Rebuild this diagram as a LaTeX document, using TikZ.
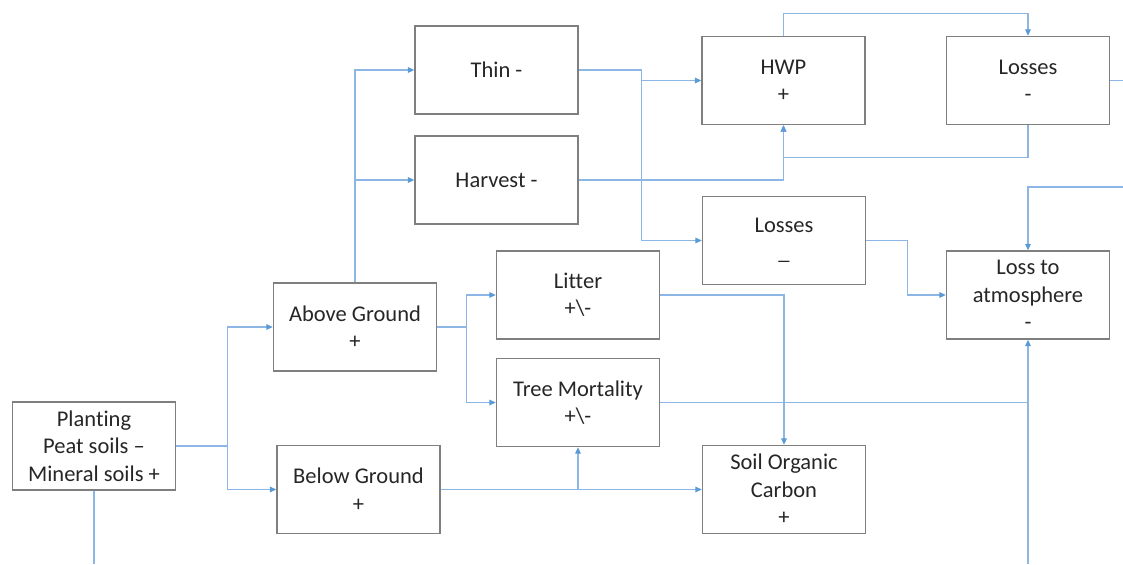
\documentclass[tikz,border=0pt]{standalone}
\usepackage{fontspec}
\setmainfont{Carlito}[Ligatures={NoCommon}]
\usepackage{tikz}
\usetikzlibrary{arrows.meta, positioning, calc}
\definecolor{linkblue}{RGB}{140,182,230}
\definecolor{tipblue}{RGB}{91,155,213}
\definecolor{boxgray}{RGB}{127,127,127}
\begin{document}
\begin{tikzpicture}[
            block/.style={rectangle, draw=boxgray, line width=1pt, align=center,
                minimum height=2.2cm, minimum width=4.075cm, inner sep=2pt,
                text=black!85, font=\fontsize{16}{19.5}\selectfont},
            link/.style={draw=linkblue, line width=0.8pt},
            >={Triangle[length=1.6mm, width=1.4mm, color=tipblue]},
            node distance=1cm and 2cm,
            auto
        ]

        \useasboundingbox (0,0) rectangle (28.075,14.1);

        % boxes
        \node[block] (plant) at (2.35,2.95) {Planting\\Peat soils –\\Mineral soils +};
        \node[block] (above) at (8.875,5.925) {Above Ground\\+};
        \node[block] (below) at (8.9625,1.8625) {Below Ground\\+};
        \node[block] (thin) at (12.4125,12.35) {Thin -};
        \node[block] (harvest) at (12.4125,9.6) {Harvest -};
        \node[block] (litter) at (14.45,6.725) {Litter\\+\textbackslash-};
        \node[block] (mortality) at (14.45,4.0375) {Tree Mortality\\+\textbackslash-};
        \node[block] (hwp) at (19.5875,12.0875) {HWP\\+};
        \node[block] (losses1) at (25.7,12.0875) {Losses\\-};
        \node[block] (losses2) at (19.6,8.0875) {Losses\\\_};
        \node[block] (atmos) at (25.7,6.725) {Loss to\\atmosphere\\-};
        \node[block] (soc) at (19.6,1.8625) {Soil Organic\\Carbon\\+};

        % free ends at the border
        \coordinate (plantout) at (2.35,0);
        \coordinate (losses1out) at (28.075,12.0875);
        \coordinate (atmosin) at (28.075,9.425);
        \coordinate (atmosbelow) at (25.7,0);

        % connectors
        \draw[link] (plant.south) -- (plantout);
        \draw[link,->] (plant.east) -- ++(1.275,0) |- (above.west);
        \draw[link,->] (plant.east) -- ++(1.275,0) |- (below.west);

        \draw[link,->] (above.north) |- (thin.west);
        \draw[link,->] (above.north) |- (harvest.west);
        \draw[link,->] (above.east) -- ++(0.725,0) |- (litter.west);
        \draw[link,->] (above.east) -- ++(0.725,0) |- (mortality.west);

        \draw[link,->] (thin.east) -- ++(1.575,0) |- (losses2.west);
        \draw[link,->] (thin.east) -- ++(1.575,0) |- (hwp.west);
        \draw[link,->] (harvest.east) -| (hwp.south);

        \draw[link,->] (hwp.north) -- ++(0,0.55) -| (losses1.north);
        \draw[link,->] (losses1.south) -- ++(0,-0.8) -| (hwp.south);
        \draw[link] (losses1.east) -- (losses1out);

        \draw[link,->] (atmosin) -| (atmos.north);
        \draw[link,->] (losses2.east) -- ++(1.025,0) |- (atmos.west);
        \draw[link,->] (atmosbelow) -- (atmos.south);
        \draw[link] (mortality.east) -- (mortality.east -| atmos.south);

        \draw[link,->] (litter.east) -| (soc.north);
        \draw[link,->] (below.east) -- (soc.west);
        \draw[link,->] (below.east) -| (mortality.south);

    \end{tikzpicture}
\end{document}
